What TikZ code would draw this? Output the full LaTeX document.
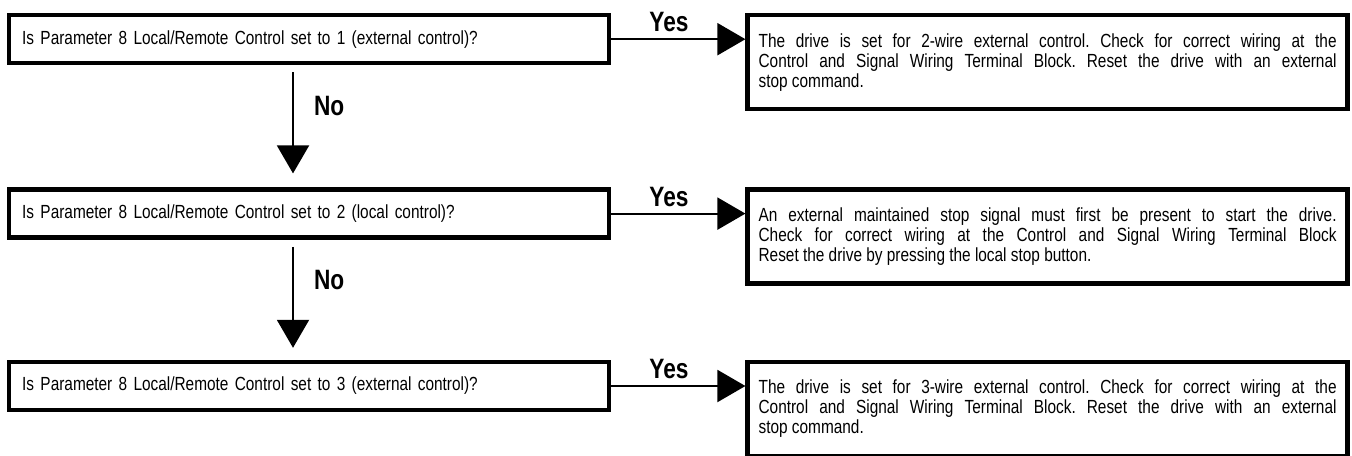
\documentclass[tikz,border=0pt]{standalone}
\usepackage{fontspec}
\setmainfont[FakeStretch=0.81]{Liberation Sans}
\usetikzlibrary{arrows.meta, positioning}
\frenchspacing

\begin{document}
\begin{tikzpicture}[x=0.5pt, y=-0.5pt,
  question/.style={draw, line width=2.2pt, anchor=north west, minimum width=300pt, minimum height=24pt,
    text width=287pt, inner xsep=6.5pt, align=left, font=\fontsize{9.5}{10}\selectfont},
  answer/.style={draw, line width=2.2pt, anchor=north west, minimum width=300pt, minimum height=47pt,
    text width=289pt, inner xsep=5.5pt, align=justify, font=\fontsize{9.5}{10}\selectfont},
  flow/.style={-{Triangle[length=14pt, width=16pt]}, line width=1pt},
  tag/.style={font=\fontsize{14}{14}\selectfont\bfseries, inner sep=1pt}]
  \useasboundingbox (0,0) rectangle (1352,455);

  % questions down the left
  \node[question] (q1) at (7,13) {Is Parameter 8 Local/Remote Control set to 1 (external control)?};
  \node[question, below=61pt of q1.south west, anchor=north west] (q2) {Is Parameter 8 Local/Remote Control set to 2 (local control)?};
  \node[question, below=60pt of q2.south west, anchor=north west] (q3) {Is Parameter 8 Local/Remote Control set to 3 (external control)?};

  % what to do on a yes
  \node[answer, right=67pt of q1.north east, anchor=north west] (a1) {The drive is set for 2-wire external control. Check for correct wiring at the\linebreak
    Control and Signal Wiring Terminal Block. Reset the drive with an external\linebreak stop command.};
  \node[answer, right=67pt of q2.north east, anchor=north west] (a2) {An external maintained stop signal must first be present to start the drive.\linebreak
    Check for correct wiring at the Control and Signal Wiring Terminal Block\linebreak Reset the drive by pressing the local stop button.};
  \node[answer, right=67pt of q3.north east, anchor=north west] (a3) {The drive is set for 3-wire external control. Check for correct wiring at the\linebreak
    Control and Signal Wiring Terminal Block. Reset the drive with an external\linebreak stop command.};

  % yes arrows
  \foreach \n in {1,2,3}
    \draw[flow] (q\n.east) -- (q\n.east -| a\n.west) node[tag, pos=0.43, above=2pt] {Yes};

  % no arrows
  \draw[flow] ([xshift=143pt, yshift=-3.5pt]q1.south west) -- ([xshift=143pt, yshift=7pt]q2.north west)
    node[tag, pos=0.33, right=9pt] {No};
  \draw[flow] ([xshift=143pt, yshift=-3.5pt]q2.south west) -- ([xshift=143pt, yshift=6pt]q3.north west)
    node[tag, pos=0.33, right=9pt] {No};
\end{tikzpicture}
\end{document}
